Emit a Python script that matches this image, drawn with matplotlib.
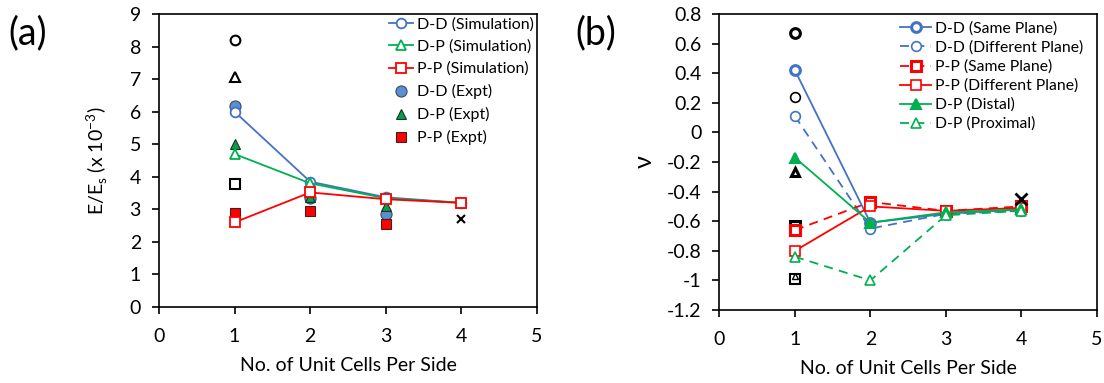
import matplotlib
matplotlib.use("Agg")
import matplotlib.pyplot as plt

plt.rcParams['font.family'] = ['Lato', 'DejaVu Sans']

# ---------------- data (a) ----------------
x_sim = [1, 2, 3, 4]
dd_sim = [6.0, 3.85, 3.37, 3.2]
dp_sim = [4.7, 3.8, 3.34, 3.2]
pp_sim = [2.6, 3.52, 3.31, 3.2]
x_exp = [1, 2, 3]
dd_exp = [6.18, 3.36, 2.85]
dp_exp = [5.02, 3.38, 3.1]
pp_exp = [2.88, 2.95, 2.55]
blk_a_x = [1, 1, 1, 4]
blk_a_y = [8.2, 7.07, 3.78, 2.7]
blk_a_m = ['o', '^', 's', 'x']

# ---------------- data (b) ----------------
x_b = [1, 2, 3, 4]
dd_same = [0.42, -0.61, -0.55, -0.52]
dd_diff = [0.11, -0.65, -0.55, -0.53]
pp_same = [-0.66, -0.47, -0.53, -0.5]
pp_diff = [-0.8, -0.5, -0.53, -0.51]
dp_dist = [-0.17, -0.61, -0.54, -0.52]
dp_prox = [-0.84, -1.0, -0.56, -0.53]
blk_b_x = [1, 1, 1, 1, 1, 1, 4]
blk_b_y = [0.67, 0.24, -0.27, -0.63, -0.99, -0.97, -0.45]
blk_b_m = ['o', 'o', '^', 's', 's', '^', 'x']
blk_b_w = [2.2, 1.2, 2.2, 2.2, 1.5, 1.0, 2.0]
blk_b_s = [7, 7, 6, 7, 7, 4, 9]

BLUE = '#4472C4'
GREEN = '#00B050'
RED = '#FF0000'

fig = plt.figure(figsize=(11.04, 3.83), dpi=100)
axa = fig.add_axes([0.144, 0.1984, 0.3424, 0.765])
axb = fig.add_axes([0.6517, 0.1906, 0.3417, 0.7728])

tick_fs = 14
label_fs = 14

def style(ax):
    for s in ax.spines.values():
        s.set_linewidth(1.2)
        s.set_color('black')
    ax.tick_params(direction='out', length=5, width=1.2, labelsize=tick_fs)
    ax.tick_params(axis='y', pad=8)
    ax.tick_params(axis='x', pad=10)
    ax.set_xlim(0, 5)
    ax.set_xticks([0, 1, 2, 3, 4, 5])
    ax.set_xlabel('No. of Unit Cells Per Side', fontsize=label_fs, labelpad=9)

# ---- panel (a)
style(axa)
axa.set_ylim(0, 9)
axa.set_yticks(range(0, 10))
axa.set_ylabel(r'E/E$_\mathregular{s}$ (x 10$^\mathregular{-3}$)', fontsize=label_fs, labelpad=14)

for m, xv, yv in zip(blk_a_m, blk_a_x, blk_a_y):
    if m == 'x':
        axa.plot(xv, yv, marker='x', color='black', ms=6, mew=1.5, ls='none')
    else:
        axa.plot(xv, yv, marker=m, mfc='white', mec='black', ms=7, mew=1.5, ls='none')

lw = 1.3
axa.plot(x_exp, dd_exp, 'o', mfc='#5B8FD0', mec='#3A4A60', ms=8, mew=0.8, ls='none', label='D-D (Expt)', zorder=3)
axa.plot(x_exp, dp_exp, '^', mfc='#00A050', mec='#203020', ms=7, mew=0.8, ls='none', label='D-P (Expt)', zorder=3)
axa.plot(x_exp, pp_exp, 's', mfc='#FF0000', mec='#402020', ms=7.5, mew=0.8, ls='none', label='P-P (Expt)', zorder=3)
axa.plot(x_sim, dd_sim, '-o', color=BLUE, mfc='white', mec=BLUE, ms=7, mew=1.3, lw=lw, label='D-D (Simulation)', zorder=4)
axa.plot(x_sim, dp_sim, '-^', color=GREEN, mfc='white', mec=GREEN, ms=7, mew=1.3, lw=lw, label='D-P (Simulation)', zorder=4)
axa.plot(x_sim, pp_sim, '-s', color=RED, mfc='white', mec=RED, ms=7, mew=1.3, lw=lw, label='P-P (Simulation)', zorder=4)

h, l = axa.get_legend_handles_labels()
order = [3, 4, 5, 0, 1, 2]
axa.legend([h[i] for i in order], [l[i] for i in order], loc='upper left',
           bbox_to_anchor=(0.6, 1.0), frameon=False, fontsize=11.5,
           handlelength=1.5, handletextpad=0.25, labelspacing=0.5, borderpad=0.2,
           borderaxespad=0)

fig.text(0.008, 0.885, '(a)', fontsize=27)

# ---- panel (b)
style(axb)
axb.set_ylim(-1.2, 0.8)
yt = [-1.2, -1.0, -0.8, -0.6, -0.4, -0.2, 0, 0.2, 0.4, 0.6, 0.8]
axb.set_yticks(yt)
axb.set_yticklabels(['-1.2', '-1', '-0.8', '-0.6', '-0.4', '-0.2', '0', '0.2', '0.4', '0.6', '0.8'])
axb.set_ylabel('ν', fontsize=18, labelpad=8)

for m, xv, yv, w, s in zip(blk_b_m, blk_b_x, blk_b_y, blk_b_w, blk_b_s):
    if m == 'x':
        axb.plot(xv, yv, marker='x', color='black', ms=s, mew=w, ls='none', zorder=5)
    else:
        axb.plot(xv, yv, marker=m, mfc='white', mec='black', ms=s, mew=w, ls='none', zorder=2)

dash = (0, (5, 3.5))
axb.plot(x_b, dd_same, '-o', color=BLUE, mfc='white', mec=BLUE, ms=7, mew=2.2, lw=lw, label='D-D (Same Plane)', zorder=4)
axb.plot(x_b, dd_diff, 'o', ls=dash, color=BLUE, mfc='white', mec=BLUE, ms=7, mew=1.2, lw=lw, label='D-D (Different Plane)', zorder=4)
axb.plot(x_b, pp_same, 's', ls=dash, color=RED, mfc='white', mec=RED, ms=7, mew=2.2, lw=lw, label='P-P (Same Plane)', zorder=4)
axb.plot(x_b, pp_diff, '-s', color=RED, mfc='white', mec=RED, ms=7, mew=1.2, lw=lw, label='P-P (Different Plane)', zorder=4)
axb.plot(x_b, dp_dist, '-^', color=GREEN, mfc=GREEN, mec=GREEN, ms=7, mew=1.5, lw=lw, label='D-P (Distal)', zorder=4)
axb.plot(x_b, dp_prox, '^', ls=dash, color=GREEN, mfc='white', mec=GREEN, ms=7, mew=1.2, lw=lw, label='D-P (Proximal)', zorder=4)

axb.legend(loc='upper left', bbox_to_anchor=(0.47, 0.985), frameon=False, fontsize=11.3,
           handlelength=2.0, handletextpad=0.25, labelspacing=0.3, borderpad=0.2,
           borderaxespad=0)

fig.text(0.521, 0.885, '(b)', fontsize=27)

fig.savefig('out.png', dpi=100)
